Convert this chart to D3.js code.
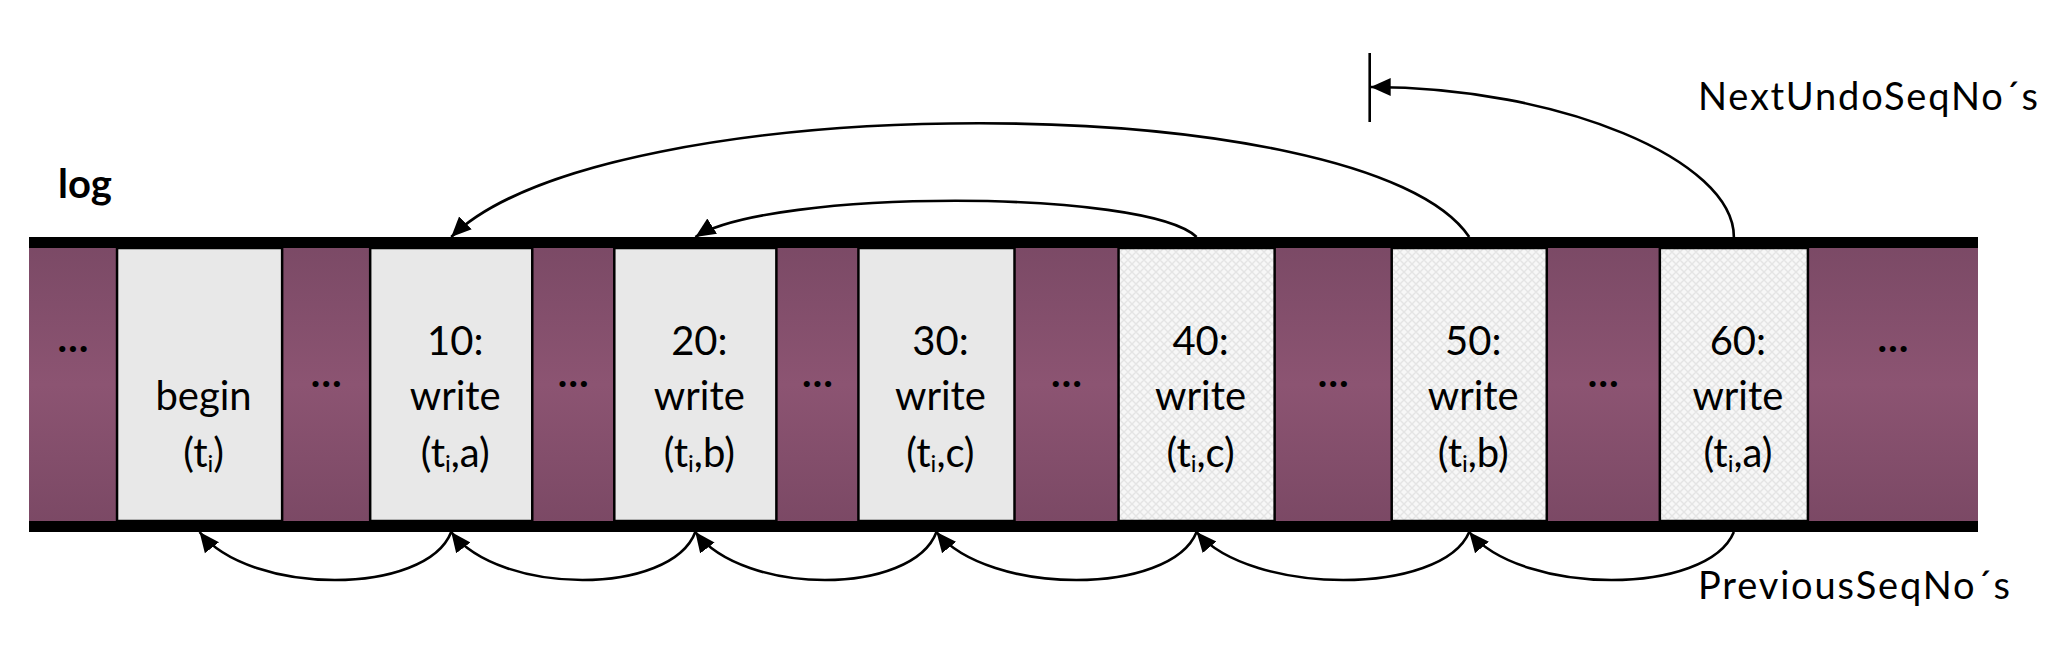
<!DOCTYPE html>
<html>
<head>
<meta charset="utf-8">
<script src="https://cdn.jsdelivr.net/npm/d3@7"></script>
<style>
  body { margin: 0; background: #fff; }
  text { font-family: Lato, "Open Sans", sans-serif; fill: #000; }
</style>
</head>
<body>
<div id="chart"></div>
<script>
// log records, left to right: gap, entry, gap, entry, ..., gap
const gapSizes = [88, 88, 82, 82, 104, 117, 113, 170];
const entrySizes = [165, 162, 162, 156, 156, 155, 148];
const seqNos = ["", "10:", "20:", "30:", "40:", "50:", "60:"];
const ops = ["begin", "write", "write", "write", "write", "write", "write"];
const items = ["", "a", "b", "c", "c", "b", "a"];
const undone = [false, false, false, false, true, true, true];

// links between entries (indices into the entry arrays), null = end of chain
const nextUndoLinks = [[5, 1], [4, 2], [6, null]];
const previousLinks = [[1, 0], [2, 1], [3, 2], [4, 3], [5, 4], [6, 5]];

const titleText = "log";
const nextUndoText = "NextUndoSeqNo´s";
const previousText = "PreviousSeqNo´s";

const width = 2070, height = 652;
const band = {top: 237, line: 11, bottom: 532};

// build the record list with cumulative offsets
const records = [];
let offset = 0;
gapSizes.forEach((g, i) => {
  records.push({kind: "gap", start: offset, end: offset + g, index: i});
  offset += g;
  if (i < entrySizes.length) {
    records.push({kind: "entry", start: offset, end: offset + entrySizes[i], index: i});
    offset += entrySizes[i];
  }
});
const total = offset;

const x = d3.scaleLinear().domain([0, total]).range([29, 1978]);
const entries = records.filter(r => r.kind === "entry");
const gaps = records.filter(r => r.kind === "gap");
const cx = i => x((entries[i].start + entries[i].end) / 2);

const svg = d3.select("#chart").append("svg")
  .attr("width", width)
  .attr("height", height);

const defs = svg.append("defs");

// purple shading of the skipped parts of the log
const grad = defs.append("linearGradient")
  .attr("id", "purple")
  .attr("x1", 0).attr("y1", 0).attr("x2", 0).attr("y2", 1);
grad.append("stop").attr("offset", "0%").attr("stop-color", "#7a4965");
grad.append("stop").attr("offset", "50%").attr("stop-color", "#8c5472");
grad.append("stop").attr("offset", "100%").attr("stop-color", "#7a4864");

// faint hatch for undone entries
const pat = defs.append("pattern")
  .attr("id", "hatch")
  .attr("patternUnits", "userSpaceOnUse")
  .attr("width", 8).attr("height", 8);
pat.append("rect").attr("width", 8).attr("height", 8).attr("fill", "#f7f7f7");
pat.append("path")
  .attr("d", "M0,4 L4,0 L8,4 L4,8 Z")
  .attr("fill", "none")
  .attr("stroke", "#e4e4e4")
  .attr("stroke-width", 1.4);

defs.append("marker")
  .attr("id", "arrow")
  .attr("viewBox", "-20 -10 21 20")
  .attr("refX", 0).attr("refY", 0)
  .attr("markerWidth", 21).attr("markerHeight", 20)
  .attr("markerUnits", "userSpaceOnUse")
  .attr("orient", "auto")
  .append("path")
  .attr("d", "M0,0 L-20,-9 L-20,9 Z")
  .attr("fill", "#000");

// gaps
svg.append("g")
  .selectAll("rect")
  .data(gaps)
  .join("rect")
  .attr("x", d => x(d.start))
  .attr("y", band.top)
  .attr("width", d => x(d.end) - x(d.start))
  .attr("height", band.bottom - band.top)
  .attr("fill", "url(#purple)");

// entries
svg.append("g")
  .selectAll("rect")
  .data(entries)
  .join("rect")
  .attr("x", d => x(d.start))
  .attr("y", band.top + band.line)
  .attr("width", d => x(d.end) - x(d.start))
  .attr("height", band.bottom - band.top - 2 * band.line)
  .attr("fill", d => undone[d.index] ? "url(#hatch)" : "#e8e8e8")
  .attr("stroke", "#000")
  .attr("stroke-width", 2.5);

// top and bottom rails of the log
[band.top, band.bottom - band.line].forEach(y0 => {
  svg.append("rect")
    .attr("x", x(0))
    .attr("y", y0)
    .attr("width", x(total) - x(0))
    .attr("height", band.line)
    .attr("fill", "#000");
});

// dots in the gaps
svg.append("g")
  .selectAll("text")
  .data(gaps)
  .join("text")
  .attr("x", d => x((d.start + d.end) / 2))
  .attr("y", d => (d.index === 0 || d.index === gaps.length - 1) ? 352 : 387)
  .attr("text-anchor", "middle")
  .style("font-size", "40px")
  .style("font-weight", "bold")
  .text("\u2026");

// entry labels
const lines = [355, 410, 467];
entries.forEach(d => {
  const i = d.index;
  const xc = cx(i) + 4;
  if (seqNos[i]) {
    svg.append("text").attr("x", xc).attr("y", lines[0])
      .attr("text-anchor", "middle").style("font-size", "40px")
      .text(seqNos[i]);
  }
  svg.append("text").attr("x", xc).attr("y", lines[1])
    .attr("text-anchor", "middle").style("font-size", "40px")
    .text(ops[i]);
  const t = svg.append("text").attr("x", xc).attr("y", lines[2])
    .attr("text-anchor", "middle").style("font-size", "40px");
  t.append("tspan").text("(t");
  t.append("tspan").attr("dy", 5).style("font-size", "24px").text("i");
  t.append("tspan").attr("dy", -5).text(items[i] ? "," + items[i] + ")" : ")");
});

// title
svg.append("text")
  .attr("x", 58).attr("y", 198)
  .style("font-size", "40px").style("font-weight", "bold")
  .text(titleText);

const arcs = svg.append("g")
  .attr("fill", "none")
  .attr("stroke", "#000")
  .attr("stroke-width", 2.6);

// NextUndoSeqNo chain above the log
const endBarX = x(entries[5].start) - 22;
arcs.append("line")
  .attr("x1", endBarX).attr("x2", endBarX)
  .attr("y1", 53).attr("y2", 122);

nextUndoLinks.forEach(([s, t]) => {
  const xs = cx(s), y0 = band.top;
  let p;
  if (t === null) {
    p = d3.path();
    p.moveTo(xs, y0);
    p.bezierCurveTo(xs, 160, endBarX + 190, 87, endBarX + 1, 87);
  } else {
    const xt = cx(t), span = xs - xt;
    const h = 0.15 * span - 39;
    const k = 4 / 3 * h;
    p = d3.path();
    p.moveTo(xs, y0);
    p.bezierCurveTo(xs - 0.1 * span, y0 - k, xt + 0.15 * span, y0 - k, xt, y0);
  }
  arcs.append("path").attr("d", p.toString()).attr("marker-end", "url(#arrow)");
});

// PreviousSeqNo chain below the log
previousLinks.forEach(([s, t]) => {
  const xs = cx(s), xt = cx(t), span = xs - xt, y0 = band.bottom;
  const k = 64;
  const p = d3.path();
  p.moveTo(xs, y0);
  p.bezierCurveTo(xs - 0.1 * span, y0 + k, xt + 0.2 * span, y0 + k, xt, y0);
  arcs.append("path").attr("d", p.toString()).attr("marker-end", "url(#arrow)");
});

// chain labels (letter spacing stretched like the original)
svg.append("text")
  .attr("x", 1698).attr("y", 110)
  .attr("textLength", 340).attr("lengthAdjust", "spacing")
  .style("font-size", "38px")
  .text(nextUndoText);

svg.append("text")
  .attr("x", 1698).attr("y", 599)
  .attr("textLength", 312).attr("lengthAdjust", "spacing")
  .style("font-size", "38px")
  .text(previousText);
</script>
</body>
</html>
